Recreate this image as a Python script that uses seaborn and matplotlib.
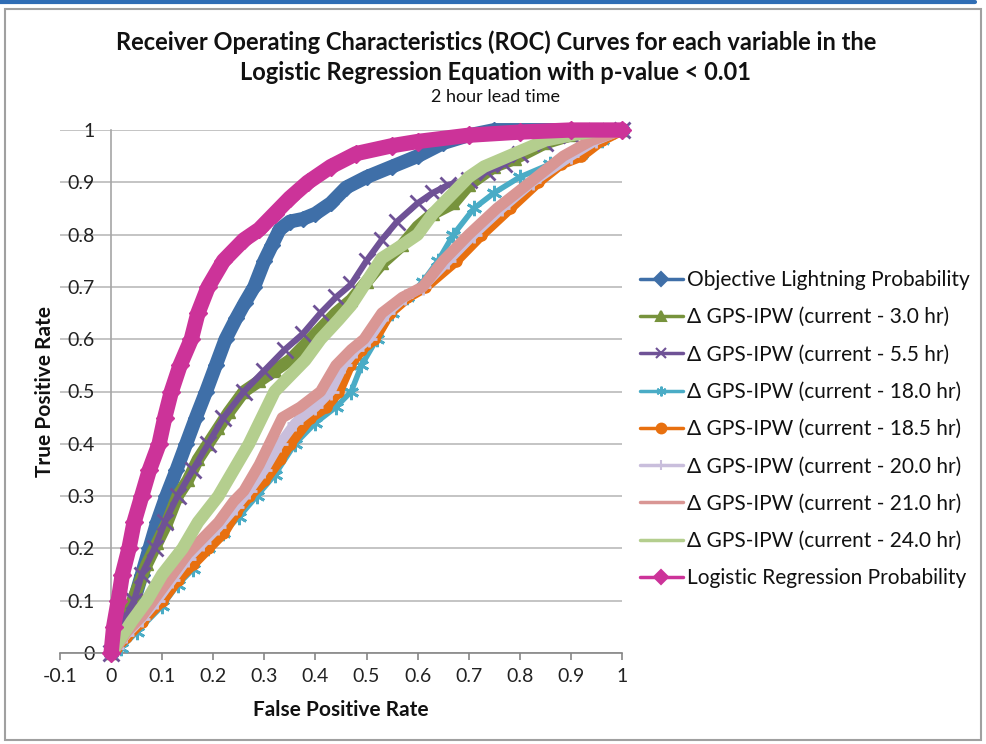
import numpy as np
import pandas as pd
import matplotlib
matplotlib.use("Agg")
import matplotlib.pyplot as plt
import seaborn as sns
from matplotlib.lines import Line2D
from matplotlib.patches import Rectangle

# ---------------- data ----------------
series_names = [
    "Objective Lightning Probability",
    "\u0394 GPS-IPW (current - 3.0 hr)",
    "\u0394 GPS-IPW (current - 5.5 hr)",
    "\u0394 GPS-IPW (current - 18.0 hr)",
    "\u0394 GPS-IPW (current - 18.5 hr)",
    "\u0394 GPS-IPW (current - 20.0 hr)",
    "\u0394 GPS-IPW (current - 21.0 hr)",
    "\u0394 GPS-IPW (current - 24.0 hr)",
    "Logistic Regression Probability",
]

obj_fpr = [0, 0.01, 0.025, 0.045, 0.06, 0.075, 0.09, 0.108, 0.128, 0.147, 0.166, 0.186, 0.205, 0.224,
           0.245, 0.262, 0.28, 0.30, 0.315, 0.33, 0.35, 0.375, 0.40, 0.43, 0.46, 0.50, 0.55, 0.60, 0.65,
           0.70, 0.75, 1.0]
obj_tpr = [0, 0.03, 0.07, 0.10, 0.15, 0.20, 0.25, 0.30, 0.35, 0.40, 0.45, 0.50, 0.55, 0.60,
           0.64, 0.67, 0.70, 0.75, 0.78, 0.81, 0.825, 0.83, 0.84, 0.86, 0.89, 0.91, 0.93, 0.95, 0.975,
           0.99, 1.0, 1.0]

h03_fpr = [0, 0.01, 0.03, 0.05, 0.07, 0.09, 0.11, 0.13, 0.15, 0.17, 0.19, 0.21, 0.23, 0.26, 0.29, 0.32,
           0.35, 0.38, 0.41, 0.44, 0.47, 0.50, 0.53, 0.57, 0.60, 0.63, 0.67, 0.70, 0.75, 0.79, 0.85, 0.90,
           0.95, 1.0]
h03_tpr = [0, 0.03, 0.07, 0.12, 0.17, 0.21, 0.25, 0.30, 0.33, 0.37, 0.40, 0.43, 0.46, 0.50, 0.52, 0.54,
           0.56, 0.59, 0.62, 0.65, 0.675, 0.71, 0.745, 0.78, 0.815, 0.84, 0.86, 0.895, 0.93, 0.945, 0.975, 0.99,
           0.998, 1.0]

h055_fpr = [0, 0.01, 0.03, 0.045, 0.06, 0.085, 0.105, 0.13, 0.16, 0.19, 0.22, 0.26, 0.30, 0.34, 0.375,
            0.41, 0.44, 0.47, 0.50, 0.53, 0.56, 0.60, 0.63, 0.66, 0.70, 0.735, 0.77, 0.80, 0.85, 0.90, 0.95, 1.0]
h055_tpr = [0, 0.03, 0.07, 0.10, 0.15, 0.20, 0.25, 0.30, 0.35, 0.40, 0.45, 0.50, 0.54, 0.58, 0.61,
            0.65, 0.68, 0.705, 0.75, 0.79, 0.825, 0.86, 0.88, 0.895, 0.905, 0.92, 0.935, 0.955, 0.975, 0.99, 0.998, 1.0]

h18_fpr = [0, 0.02, 0.05, 0.10, 0.13, 0.16, 0.19, 0.22, 0.25, 0.285, 0.32, 0.36, 0.40, 0.44, 0.47, 0.49,
           0.52, 0.55, 0.58, 0.61, 0.64, 0.67, 0.71, 0.75, 0.80, 0.86, 0.92, 0.96, 1.0]
h18_tpr = [0, 0.01, 0.04, 0.09, 0.13, 0.16, 0.20, 0.23, 0.26, 0.30, 0.34, 0.40, 0.44, 0.47, 0.50, 0.55,
           0.60, 0.65, 0.68, 0.71, 0.75, 0.80, 0.85, 0.88, 0.91, 0.935, 0.955, 0.98, 1.0]

h185_fpr = [0, 0.01, 0.03, 0.06, 0.10, 0.13, 0.16, 0.19, 0.22, 0.245, 0.27, 0.30, 0.33, 0.35, 0.39, 0.42,
            0.445, 0.467, 0.49, 0.515, 0.545, 0.58, 0.615, 0.675, 0.725, 0.78, 0.835, 0.88, 0.92, 0.96, 1.0]
h185_tpr = [0, 0.01, 0.03, 0.06, 0.10, 0.14, 0.17, 0.20, 0.23, 0.27, 0.30, 0.33, 0.37, 0.40, 0.45, 0.47,
            0.50, 0.55, 0.58, 0.60, 0.65, 0.68, 0.70, 0.75, 0.80, 0.85, 0.90, 0.935, 0.95, 0.98, 1.0]

h20_fpr = [0, 0.01, 0.03, 0.06, 0.09, 0.12, 0.15, 0.18, 0.21, 0.245, 0.27, 0.30, 0.33, 0.36, 0.40, 0.43,
           0.455, 0.48, 0.505, 0.54, 0.575, 0.61, 0.66, 0.71, 0.765, 0.825, 0.90, 0.95, 1.0]
h20_tpr = [0, 0.01, 0.035, 0.065, 0.10, 0.14, 0.18, 0.21, 0.24, 0.28, 0.31, 0.35, 0.40, 0.44, 0.47, 0.50,
           0.55, 0.58, 0.60, 0.65, 0.68, 0.70, 0.75, 0.80, 0.85, 0.90, 0.95, 0.98, 1.0]

h21_fpr = [0, 0.01, 0.03, 0.06, 0.09, 0.12, 0.15, 0.18, 0.21, 0.24, 0.26, 0.29, 0.31, 0.335, 0.37, 0.41,
           0.44, 0.47, 0.495, 0.53, 0.57, 0.61, 0.65, 0.70, 0.755, 0.82, 0.885, 0.94, 1.0]
h21_tpr = [0, 0.01, 0.04, 0.07, 0.11, 0.15, 0.19, 0.22, 0.25, 0.29, 0.31, 0.36, 0.40, 0.45, 0.47, 0.50,
           0.55, 0.58, 0.60, 0.65, 0.68, 0.70, 0.75, 0.80, 0.85, 0.90, 0.95, 0.98, 1.0]

h24_fpr = [0, 0.02, 0.04, 0.07, 0.10, 0.14, 0.17, 0.21, 0.24, 0.27, 0.295, 0.32, 0.35, 0.38, 0.41, 0.445,
           0.47, 0.50, 0.53, 0.57, 0.60, 0.63, 0.67, 0.70, 0.73, 0.79, 0.85, 0.90, 0.95, 1.0]
h24_tpr = [0, 0.03, 0.06, 0.10, 0.15, 0.20, 0.25, 0.30, 0.35, 0.40, 0.45, 0.50, 0.53, 0.56, 0.60, 0.637,
           0.665, 0.71, 0.755, 0.78, 0.80, 0.84, 0.88, 0.91, 0.93, 0.955, 0.98, 0.99, 0.998, 1.0]

lr_fpr = [0, 0.005, 0.014, 0.022, 0.035, 0.045, 0.06, 0.075, 0.094, 0.105, 0.118, 0.135, 0.157, 0.17,
          0.19, 0.22, 0.26, 0.29, 0.32, 0.35, 0.385, 0.43, 0.48, 0.55, 0.60, 0.70, 0.80, 0.90, 1.0]
lr_tpr = [0, 0.05, 0.10, 0.15, 0.20, 0.25, 0.30, 0.35, 0.40, 0.45, 0.50, 0.55, 0.60, 0.65,
          0.70, 0.75, 0.79, 0.81, 0.84, 0.87, 0.90, 0.93, 0.955, 0.97, 0.978, 0.99, 0.996, 1.0, 1.0]

x_tick_labels = ["-0.1", "0", "0.1", "0.2", "0.3", "0.4", "0.5", "0.6", "0.7", "0.8", "0.9", "1"]
y_tick_labels = ["0", "0.1", "0.2", "0.3", "0.4", "0.5", "0.6", "0.7", "0.8", "0.9", "1"]

# ---------------- styles ----------------
colors = ["#3F6FA8", "#77933C", "#6F5296", "#4AACC6", "#E8700F", "#C9BEDC", "#D99694", "#B4CE8E", "#CC3399"]
markers = ["D", "^", "x", (6, 2, 0), "o", "+", None, None, "D"]
line_w = [10, 9, 4.5, 4, 8, 7, 8, 9, 11]
mark_s = [8, 9, 12, 11, 8, 12, 0, 0, 9]

fprs = [obj_fpr, h03_fpr, h055_fpr, h18_fpr, h185_fpr, h20_fpr, h21_fpr, h24_fpr, lr_fpr]
tprs = [obj_tpr, h03_tpr, h055_tpr, h18_tpr, h185_tpr, h20_tpr, h21_tpr, h24_tpr, lr_tpr]

frames = []
for name, fx, ty in zip(series_names, fprs, tprs):
    frames.append(pd.DataFrame({"fpr": fx, "tpr": ty, "series": name}))
df = pd.concat(frames, ignore_index=True)

sns.set_theme(style="white")
plt.rcParams['font.family'] = ['Lato', 'DejaVu Sans']

W, H = 987, 744
fig = plt.figure(figsize=(W / 100, H / 100), dpi=100)
ax = fig.add_axes([60 / W, 1 - 653 / H, 562 / W, 523 / H])

for i, name in enumerate(series_names):
    sub = df[df["series"] == name]
    kw = dict(color=colors[i], linewidth=line_w[i], solid_joinstyle="round", solid_capstyle="round",
              clip_on=False, zorder=3 + i)
    if markers[i] is not None:
        thin = markers[i] in ("x", "+") or isinstance(markers[i], tuple)
        kw.update(marker=markers[i], markersize=mark_s[i], markeredgecolor=colors[i],
                  markerfacecolor=colors[i], markeredgewidth=2 if thin else 1)
    sns.lineplot(data=sub, x="fpr", y="tpr", ax=ax, sort=False, estimator=None, legend=False, **kw)

ax.set_xlim(-0.1, 1.0)
ax.set_ylim(0, 1.0)
ax.set_xticks(np.round(np.arange(-0.1, 1.001, 0.1), 1))
ax.set_xticklabels(x_tick_labels)
ax.set_yticks(np.round(np.arange(0, 1.001, 0.1), 1))
ax.set_yticklabels(y_tick_labels)

for s in ["top", "right"]:
    ax.spines[s].set_visible(False)
ax.spines["left"].set_position(("data", 0))
ax.spines["left"].set_color("#A6A6A6")
ax.spines["left"].set_linewidth(1.2)
ax.spines["bottom"].set_color("#868686")
ax.spines["bottom"].set_linewidth(1.2)

ax.tick_params(axis="x", direction="out", length=5, width=1.2, color="#868686", pad=6,
               labelsize=14, labelcolor="#222222", bottom=True)
ax.tick_params(axis="y", length=0, pad=12, labelsize=14, labelcolor="#222222", left=True)
ax.yaxis.grid(True, color="#BFBFBF", linewidth=1.3)
ax.xaxis.grid(False)
ax.set_axisbelow(True)

ax.set_xlabel("False Positive Rate", fontsize=15, fontweight="bold", color="#111111", va="center")
ax.xaxis.set_label_coords(0.5, (653 - 710) / 523)
ax.set_ylabel("True Positive Rate", fontsize=15, fontweight="bold", color="#111111", va="center")
ax.yaxis.set_label_coords((45 - 60) / 562, 0.5)

fig.text(496 / W, 1 - 42 / H, "Receiver Operating Characteristics (ROC) Curves for each variable in the",
         ha="center", va="center", fontsize=17, fontweight="bold", color="#111111")
fig.text(496 / W, 1 - 72 / H, "Logistic Regression Equation with p-value < 0.01",
         ha="center", va="center", fontsize=17, fontweight="bold", color="#111111")
fig.text(496 / W, 1 - 97 / H, "2 hour lead time", ha="center", va="center", fontsize=13, color="#111111")

handles = []
for i in range(len(series_names)):
    handles.append(Line2D([0], [0], color=colors[i], lw=2.5,
                          marker=markers[i] if markers[i] is not None else None,
                          markersize=7, markeredgecolor=colors[i], markerfacecolor=colors[i],
                          markeredgewidth=1.5))
leg = fig.legend(handles, series_names, loc="upper left", bbox_to_anchor=(640 / W, 1 - 270 / H),
                 frameon=False, fontsize=15, handlelength=2.05, handletextpad=0.2,
                 labelspacing=0.83, borderpad=0, borderaxespad=0)
for t in leg.get_texts():
    t.set_color("#111111")

fig.add_artist(Rectangle((5 / W, 4 / H), 976 / W, 731 / H, transform=fig.transFigure,
                         fill=False, edgecolor="#A0A0A0", linewidth=1.5))
fig.add_artist(Line2D([0, 975 / W], [1 - 1.5 / H, 1 - 1.5 / H], transform=fig.transFigure,
                      color="#2F6DB5", linewidth=3))

fig.savefig("out.png", dpi=100)
